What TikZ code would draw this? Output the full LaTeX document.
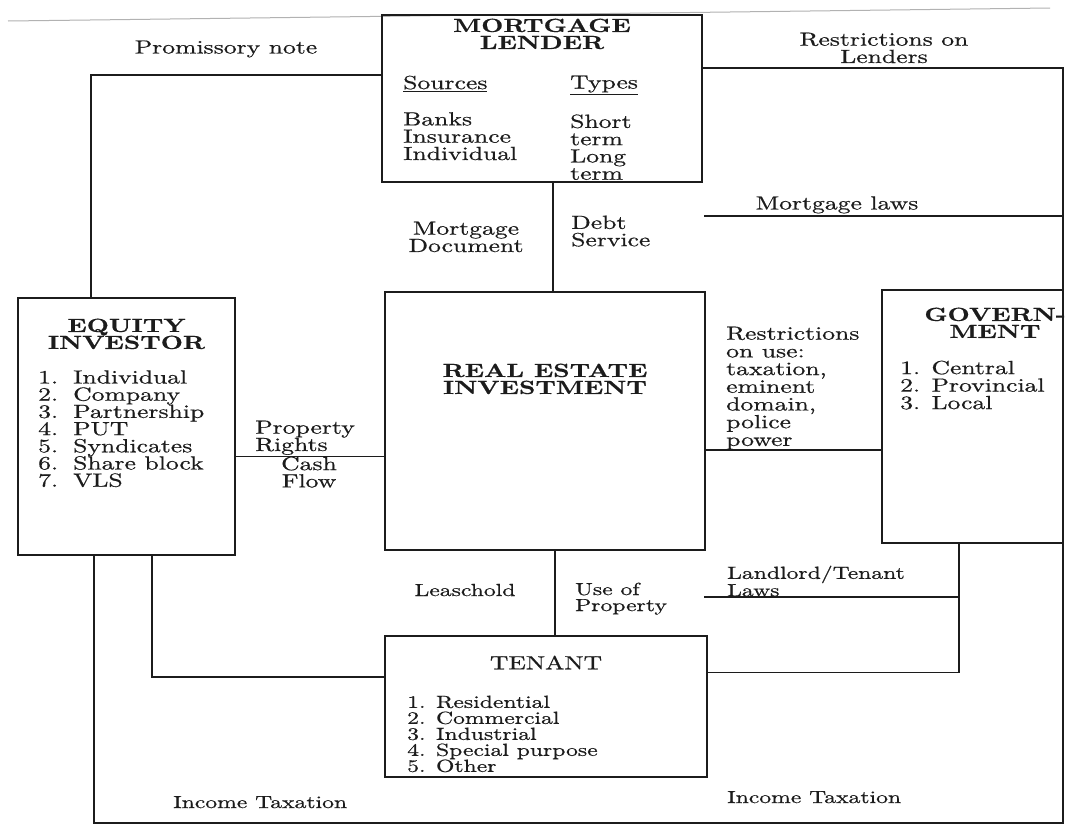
\documentclass[tikz,border=0pt]{standalone}
\usepackage{fontspec}
\setmainfont{lmroman10-regular.otf}[BoldFont=lmroman10-bold.otf, FakeStretch=1.35, FakeBold=0.6]
\usepackage{tikz}
\usetikzlibrary{positioning}
\definecolor{ink}{HTML}{1C1C1C}
\tikzset{
 box/.style={draw=ink, line width=2pt, anchor=north west, inner sep=0pt, outer sep=0pt},
 link/.style={ink, line width=1.9pt},
 head/.style={font=\fontsize{19}{17}\selectfont\bfseries, text=ink, align=center, inner sep=0pt},
 lbl/.style={font=\fontsize{19}{17.3}\selectfont, text=ink, align=left, inner sep=0pt},
 lbls/.style={font=\fontsize{17.5}{16}\selectfont, text=ink, align=left, inner sep=0pt},
}

\begin{document}
\begin{tikzpicture}[x=1pt, y=-1pt]
\fill[white] (0,0) rectangle (1069,830);
\useasboundingbox (0,0) rectangle (1069,830);
\draw[gray!60, line width=1pt] (8,21) -- (90,20) -- (1050,8);

% boxes
\node[box, minimum width=320pt, minimum height=167pt] (lender) at (382,15) {};
\node[box, minimum width=217pt, minimum height=257pt] (equity) at (18,298) {};
\node[box, minimum width=320pt, minimum height=258pt] (rei) at (385,292) {};
\node[box, minimum width=181pt, minimum height=253pt] (gov) at (882,290) {};
\node[box, minimum width=322pt, minimum height=141pt] (tenant) at (385,636) {};

% inside the boxes
\node[head, below=3.5pt of lender.north] (lenderT) {MORTGAGE\\LENDER};
\node[lbl, anchor=north west] (sources) at (403,75.5) {\underline{Sources}\\[19pt]Banks\\Insurance\\Individual};
\node[lbl, anchor=north west] (types) at (570,75.5) {\underline{Types}\\[19pt]Short\\term\\Long\\term};
\node[head, below=20.5pt of equity.north] (equityT) {EQUITY\\INVESTOR};
\foreach \t [count=\i] in {Individual,Company,Partnership,PUT,Syndicates,Share block,VLS}
  \node[lbl, anchor=base west] (eq\i) at (38,{383.5+17.2*(\i-1)}) {\makebox[35pt][l]{\i.}\t};
\node[head, below=71.5pt of rei.north] (reiT) {REAL ESTATE\\INVESTMENT};
\node[head, anchor=north] (govT) at (995,307.5) {GOVERN-\\MENT};
\node[lbl, anchor=north west, font=\fontsize{19}{17.5}\selectfont] (govL) at (900,360.5) {1. Central\\2. Provincial\\3. Local};
\node[lbl, below=19.5pt of tenant.north] (tenantT) {TENANT};
\node[lbls, anchor=north west] (tenantL) at (407,695.5) {1. Residential\\2. Commercial\\3. Industrial\\4. Special purpose\\5. Other};

% connectors
\coordinate (prom) at ([yshift=-60pt]lender.north west);
\draw[link] (prom) -| ([xshift=73pt]equity.north west);
\coordinate (rlend) at ([yshift=-53pt]lender.north east);
\draw[link] (rlend) -| (gov.north east);
\coordinate (mlaw) at (704,216);
\draw[link] (mlaw) -- (mlaw -| gov.north east);
\coordinate (debt) at ([xshift=11pt]lender.south);
\draw[link] (debt) -- (debt |- rei.north);
\coordinate (prop) at ([yshift=-30pt]equity.east);
\draw[link] (prop) -- (prop -| rei.west);
\coordinate (ruse) at ([yshift=-29pt]rei.east);
\draw[link] (ruse) -- (ruse -| gov.west);
\coordinate (usep) at ([xshift=10pt]rei.south);
\draw[link] (usep) -- (usep |- tenant.north);
\coordinate (lease) at ([xshift=134pt]equity.south west);
\draw[link] (lease) |- ([yshift=-41pt]tenant.north west);
\coordinate (gbot) at ([xshift=77pt]gov.south west);
\draw[link] (gbot) |- ([yshift=34pt]tenant.east);
\coordinate (llaw) at (704,597);
\draw[link] (llaw) -- (llaw -| gbot);
\coordinate (floor) at (500,823);
\draw[link] ([xshift=76pt]equity.south west) |- (floor) -| (gov.south east);

% connector labels
\node[lbl, anchor=base] (promT) at (226,53.5) {Promissory note};
\node[lbl, anchor=north, align=center] (rlendT) at (884,32.5) {Restrictions on\\Lenders};
\node[lbl, anchor=base] (mlawT) at (837,209.5) {Mortgage laws};
\node[lbl, anchor=north, align=center] (mdocT) at (466,221.5) {Mortgage\\Document};
\node[lbl, anchor=north west] (debtT) at (571,215.5) {Debt\\Service};
\node[lbl, anchor=north west] (propT) at (255,420.5) {Property\\Rights};
\node[lbl, anchor=north, align=center] (cashT) at (309,456.5) {Cash\\Flow};
\node[lbl, anchor=north west, font=\fontsize{19}{17.7}\selectfont] (ruseT) at (726,326.5) {Restrictions\\on use:\\taxation,\\eminent\\domain,\\police\\power};
\node[lbls, anchor=north west] (llawT) at (727,565.5) {Landlord/Tenant\\Laws};
\node[lbls, anchor=north west] (usepT) at (575,582.5) {Use of\\Property};
\node[lbls, anchor=base] (leaseT) at (465,596) {Leaschold};
\node[lbls, anchor=base west] (taxL) at (173,808) {Income Taxation};
\node[lbls, anchor=base west] (taxR) at (727,803) {Income Taxation};
\end{tikzpicture}
\end{document}
